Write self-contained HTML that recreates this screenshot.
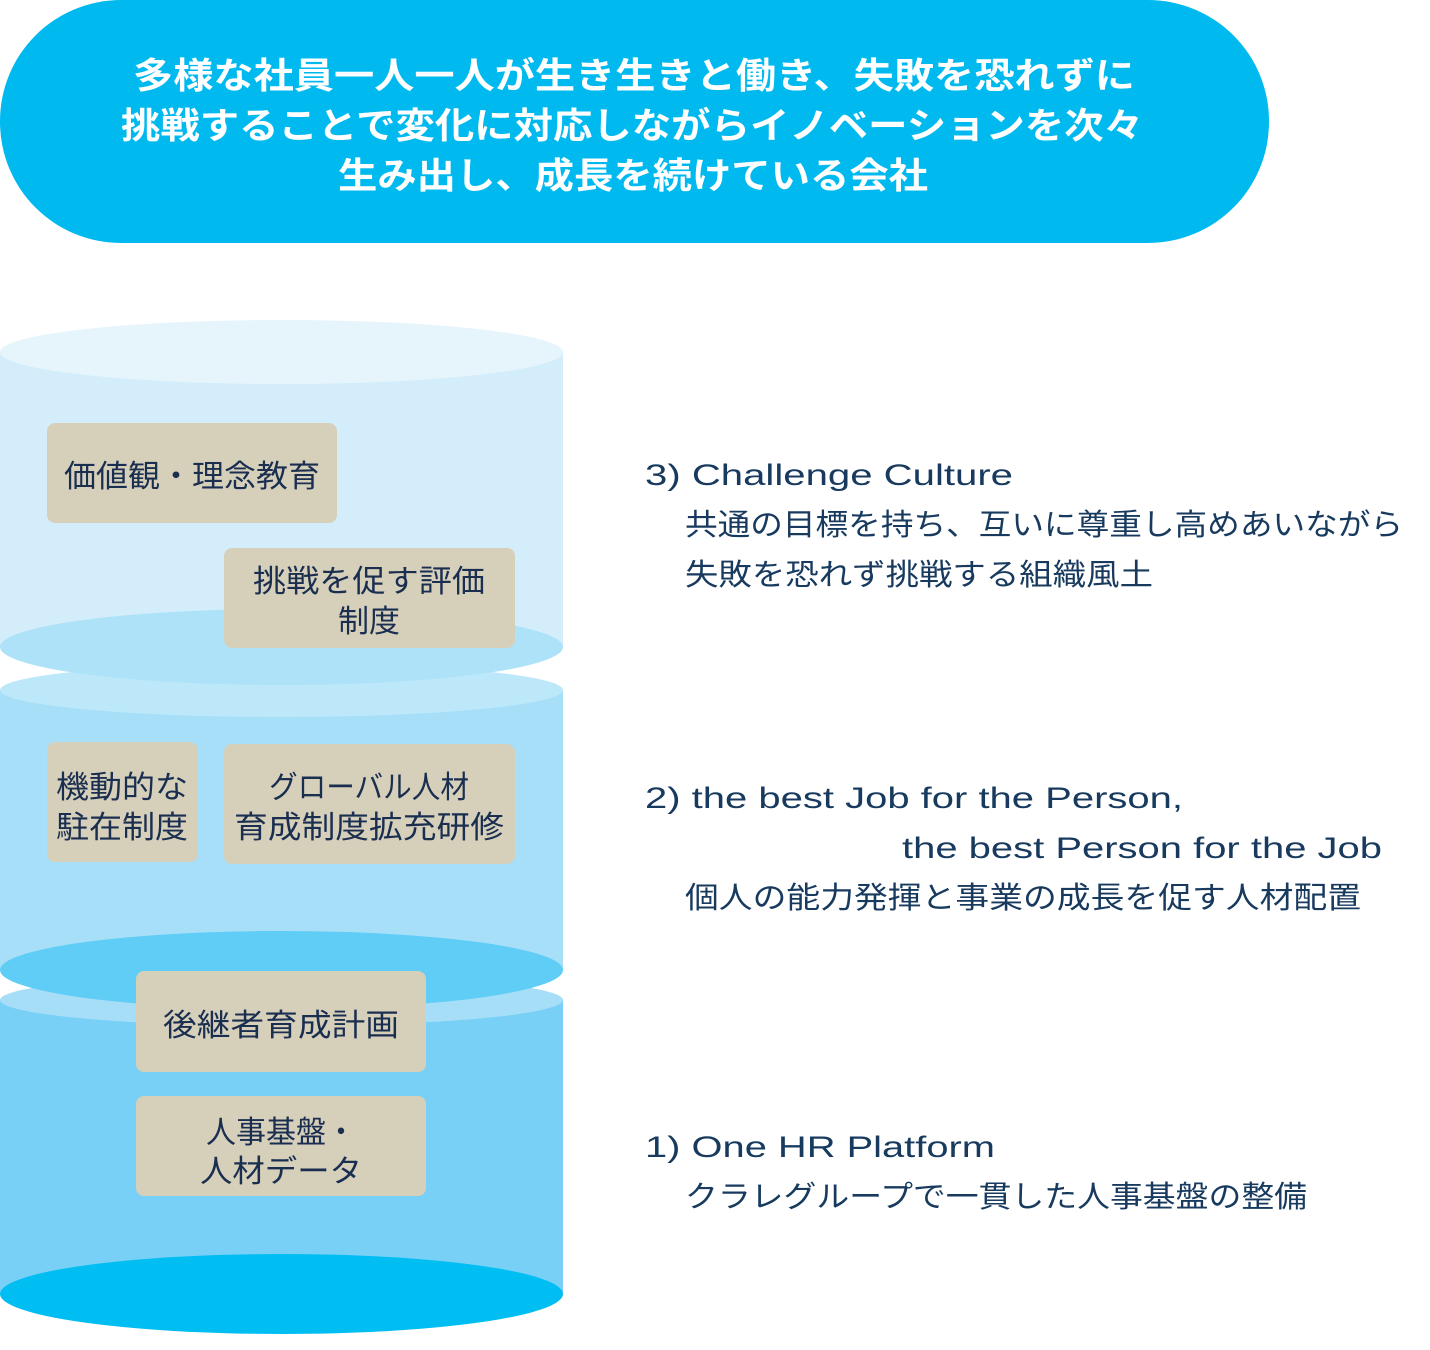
<!DOCTYPE html>
<html><head><meta charset="utf-8"><style>
html,body{margin:0;padding:0;background:#fff;}
svg{display:block;}
text{font-family:"Liberation Sans","Noto Sans CJK JP",sans-serif;}
</style></head><body>
<svg width="1430" height="1350" viewBox="0 0 1430 1350" xmlns="http://www.w3.org/2000/svg">
<rect x="0" y="0" width="1269" height="243" rx="121" fill="#00b9ef"/>
<g fill="#fff" font-size="36" font-weight="bold" text-anchor="start">
<text x="133" y="88" textLength="1002" lengthAdjust="spacingAndGlyphs">多様な社員一人一人が生き生きと働き、失敗を恐れずに</text>
<text x="121" y="138" textLength="1022" lengthAdjust="spacingAndGlyphs">挑戦することで変化に対応しながらイノベーションを次々</text>
<text x="338" y="188" textLength="590" lengthAdjust="spacingAndGlyphs">生み出し、成長を続けている会社</text>
</g>

<rect x="0" y="1000" width="563" height="294" fill="#78d0f7"/>
<ellipse cx="281.5" cy="1000" rx="281.5" ry="26" fill="#a6def8"/>
<ellipse cx="281.5" cy="1294" rx="281.5" ry="40" fill="#00bdf2"/>

<rect x="0" y="690" width="563" height="280" fill="#a7dff8"/>
<ellipse cx="281.5" cy="690" rx="281.5" ry="27" fill="#bde8fa"/>
<ellipse cx="281.5" cy="970" rx="281.5" ry="39" fill="#5fcdf6"/>

<rect x="0" y="352" width="563" height="295" fill="#d3edfb"/>
<ellipse cx="281.5" cy="352" rx="281.5" ry="32" fill="#e6f5fc"/>
<ellipse cx="281.5" cy="647" rx="281.5" ry="38" fill="#aee2f8"/>

<g fill="#d6d0bb">
<rect x="47" y="423" width="290" height="100" rx="8"/>
<rect x="224" y="548" width="291" height="100" rx="8"/>
<rect x="47" y="742" width="151" height="120" rx="8"/>
<rect x="224" y="744" width="291" height="120" rx="8"/>
<rect x="136" y="971" width="290" height="101" rx="8"/>
<rect x="136" y="1096" width="290" height="100" rx="8"/>
</g>
<g fill="#1a2e50" font-size="31" text-anchor="middle">
<text x="192" y="487" textLength="256" lengthAdjust="spacingAndGlyphs">価値観・理念教育</text>
<text x="369" y="592" textLength="232" lengthAdjust="spacingAndGlyphs">挑戦を促す評価</text>
<text x="369" y="632">制度</text>
<text x="122" y="798" textLength="132" lengthAdjust="spacingAndGlyphs">機動的な</text>
<text x="122" y="838" textLength="132" lengthAdjust="spacingAndGlyphs">駐在制度</text>
<text x="369" y="798" textLength="200" lengthAdjust="spacingAndGlyphs">グローバル人材</text>
<text x="369" y="838" textLength="270" lengthAdjust="spacingAndGlyphs">育成制度拡充研修</text>
<text x="281" y="1036" textLength="236" lengthAdjust="spacingAndGlyphs">後継者育成計画</text>
<text x="281" y="1143" textLength="150" lengthAdjust="spacingAndGlyphs">人事基盤・</text>
<text x="281" y="1182" textLength="162" lengthAdjust="spacingAndGlyphs">人材データ</text>
</g>

<g fill="#173a5e" font-size="30">
<text x="645" y="485" textLength="368" lengthAdjust="spacingAndGlyphs">3)  Challenge Culture</text>
<text x="685" y="535" textLength="718" lengthAdjust="spacingAndGlyphs">共通の目標を持ち、互いに尊重し高めあいながら</text>
<text x="685" y="585" textLength="468" lengthAdjust="spacingAndGlyphs">失敗を恐れず挑戦する組織風土</text>
<text x="645" y="808" textLength="538" lengthAdjust="spacingAndGlyphs">2)  the best Job for the Person,</text>
<text x="902" y="858" textLength="480" lengthAdjust="spacingAndGlyphs">the best Person for the Job</text>
<text x="685" y="908" textLength="676" lengthAdjust="spacingAndGlyphs">個人の能力発揮と事業の成長を促す人材配置</text>
<text x="645" y="1157" textLength="350" lengthAdjust="spacingAndGlyphs">1)  One HR Platform</text>
<text x="685" y="1207" textLength="622" lengthAdjust="spacingAndGlyphs">クラレグループで一貫した人事基盤の整備</text>
</g>
</svg>
</body></html>
